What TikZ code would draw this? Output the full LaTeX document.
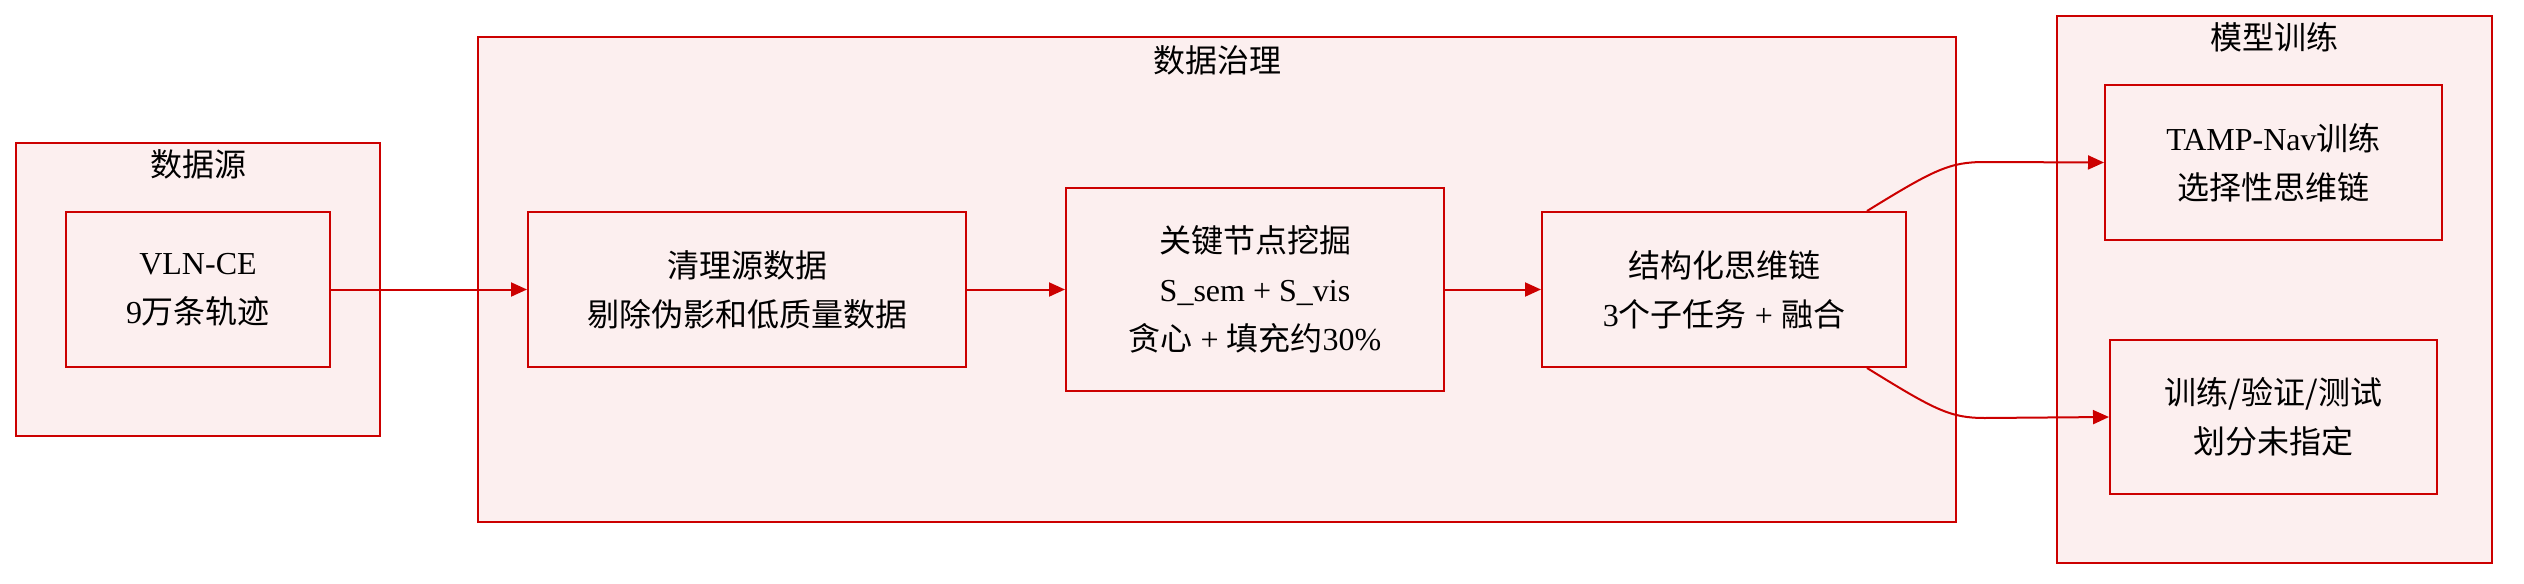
\documentclass[tikz,border=0pt]{standalone}
\usepackage{fontspec}
\setmainfont{Liberation Serif}
\newfontfamily\cjkfont{Noto Sans CJK SC}
\newcommand\cn[1]{{\cjkfont #1}}
\usetikzlibrary{arrows.meta,calc}
\definecolor{bred}{HTML}{CC0000}
\definecolor{bfill}{HTML}{FCEFEF}
\begin{document}
\begin{tikzpicture}[x=0.5pt,y=-0.5pt,
  box/.style={draw=bred,fill=bfill,line width=1pt,inner sep=0pt,align=center,
    font=\fontsize{16}{24.5}\selectfont,text=black},
  grp/.style={draw=bred,fill=bfill,line width=1pt,inner sep=0pt},
  ttl/.style={font=\fontsize{16}{24.5}\selectfont\cjkfont,text=black},
  arr/.style={draw=bred,line width=1pt,-{Triangle[length=8pt,width=7pt]}}]
\useasboundingbox (0,0) rectangle (2524,584);
% groups
\node[grp,minimum width=182pt,minimum height=146.5pt] (gsrc) at (198,289.5) {};
\node[ttl] (tsrc) at (198,164) {数据源};
\node[grp,minimum width=739pt,minimum height=242.5pt] (ggov) at (1217,279.5) {};
\node[ttl] (tgov) at (1217,60) {数据治理};
\node[grp,minimum width=217.5pt,minimum height=273.5pt] (gtrain) at (2274.5,289.5) {};
\node[ttl] (ttrain) at (2274.5,37) {模型训练};
% nodes
\node[box,minimum width=132pt,minimum height=77.5pt] (vln) at (198,289.5)
  {VLN-CE\\9\cn{万条轨迹}};
\node[box,minimum width=219pt,minimum height=77.5pt] (clean) at (747,289.5)
  {\cn{清理源数据}\\\cn{剔除伪影和低质量数据}};
\node[box,minimum width=189pt,minimum height=101.5pt] (key) at (1255,289.5)
  {\cn{关键节点挖掘}\\S\_sem + S\_vis\\\cn{贪心} + \cn{填充约}30\%};
\node[box,minimum width=182pt,minimum height=77.5pt] (cot) at (1724,289.5)
  {\cn{结构化思维链}\\3\cn{个子任务} + \cn{融合}};
\node[box,minimum width=168.5pt,minimum height=77.5pt] (tamp) at (2273.5,162.5)
  {TAMP-Nav\cn{训练}\\\cn{选择性思维链}};
\node[box,minimum width=163.5pt,minimum height=77pt] (split) at (2273.5,417)
  {\cn{训练/验证/测试}\\\cn{划分未指定}};
% connectors
\draw[arr] (vln.east) -- (clean.west);
\draw[arr] (clean.east) -- (key.west);
\draw[arr] (key.east) -- (cot.west);
\draw[arr] ($(cot.north)+(143,0)$) .. controls ($(cot.north)+(211,-42)$) and ($(cot.north)+(226,-49)$) .. ($(cot.north)+(261,-49)$) -- (tamp.west);
\draw[arr] ($(cot.south)+(143,0)$) .. controls ($(cot.south)+(211,42)$) and ($(cot.south)+(226,50)$) .. ($(cot.south)+(261,50)$) -- (split.west);
\end{tikzpicture}
\end{document}
